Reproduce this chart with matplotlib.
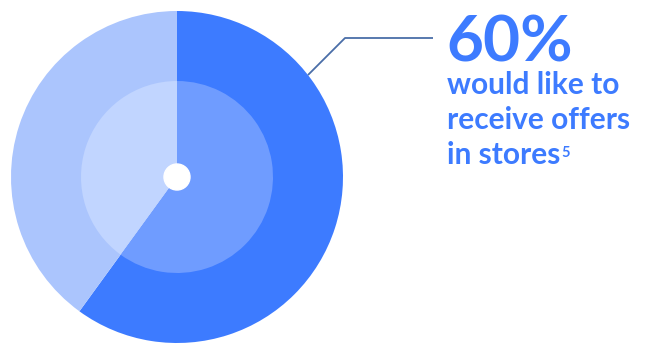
import matplotlib
matplotlib.use("Agg")
import matplotlib.pyplot as plt

# data
share = [60, 40]  # % who would like to receive offers in stores vs rest
outer_colors = ["#3d7bff", "#abc5fd"]
inner_colors = ["#6f9cff", "#c1d5ff"]
headline = "60%"
caption = ["would like to", "receive offers", "in stores"]
footnote = "5"

W, H = 646, 344
fig = plt.figure(figsize=(W / 100, H / 100), dpi=100)
ax = fig.add_axes([0, 0, 1, 1])

cx, cy = 177, H - 177

# outer ring and inner disc
ax.pie(share, colors=outer_colors, radius=166, center=(cx, cy),
       startangle=90, counterclock=False, frame=True,
       wedgeprops=dict(linewidth=0))
ax.pie(share, colors=inner_colors, radius=96, center=(cx, cy),
       startangle=90, counterclock=False, frame=True,
       wedgeprops=dict(linewidth=0))
ax.add_patch(plt.Circle((cx, cy), 13, color="white", zorder=5))

# callout line
ax.plot([308, 345, 433], [H - 75, H - 38, H - 38], color="#4a6ea8", lw=1.3,
        solid_capstyle="butt")

ax.set_xlim(0, W)
ax.set_ylim(0, H)
ax.set_aspect("equal")
ax.axis("off")

ax.text(446, H - 62, headline, color="#3d7bff", fontsize=46,
        fontweight="bold", family="Lato", va="baseline", ha="left")
last = None
for i, line in enumerate(caption):
    last = ax.text(447, H - 94 - 35 * i, line, color="#3d7bff", fontsize=21.5,
                   fontweight="bold", family="Lato", va="baseline", ha="left")

# footnote marker right after the last line
fig.canvas.draw()
bb = last.get_window_extent()
x_end = ax.transData.inverted().transform((bb.x1, bb.y0))[0]
ax.text(x_end + 1, H - 157, footnote, color="#3d7bff", fontsize=10.5,
        fontweight="bold", family="Lato", va="baseline", ha="left")

fig.savefig("out.png", dpi=100)
